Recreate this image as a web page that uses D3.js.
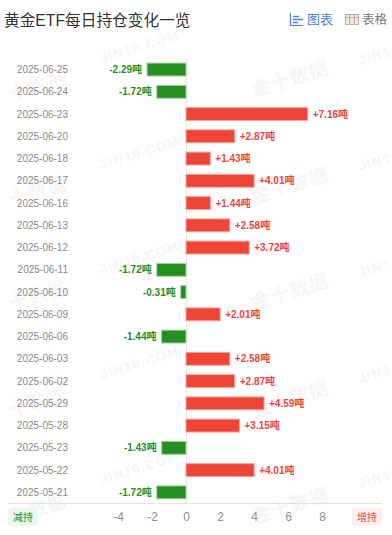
<!DOCTYPE html>
<html>
<head>
<meta charset="utf-8">
<script src="https://cdn.jsdelivr.net/npm/d3@7"></script>
<style>
  html, body { margin: 0; padding: 0; background: #fff; }
  svg { display: block; font-family: "Liberation Sans", "Noto Sans CJK SC", sans-serif; }
</style>
</head>
<body>
<div id="chart"></div>
<script>
const dates = ['2025-06-25','2025-06-24','2025-06-23','2025-06-20','2025-06-18','2025-06-17','2025-06-16','2025-06-13','2025-06-12','2025-06-11','2025-06-10','2025-06-09','2025-06-06','2025-06-03','2025-06-02','2025-05-29','2025-05-28','2025-05-23','2025-05-22','2025-05-21'];
const changes = [-2.29,-1.72,7.16,2.87,1.43,4.01,1.44,2.58,3.72,-1.72,-0.31,2.01,-1.44,2.58,2.87,4.59,3.15,-1.43,4.01,-1.72];
const xTicks = [-4,-2,0,2,4,6,8];
const title = '黄金ETF每日持仓变化一览';

const width = 392, height = 535;
const margin = { top: 58.4, right: 10, bottom: 31.5, left: 8 };
const red = '#ee4539', green = '#25901f';

const svg = d3.select('#chart').append('svg')
  .attr('width', width)
  .attr('height', height);

// Watermark, the ones at the page edge only show the part that fits
const marks = [
  ['JIN10.COM', 141, 51], ['JIN10.COM', 141, 157], ['JIN10.COM', 141, 262], ['JIN10.COM', 141, 367], ['JIN10.COM', 141, 472],
  ['金十数据', 292, 85], ['金十数据', 292, 192], ['金十数据', 292, 298], ['金十数据', 292, 405], ['金十数据', 292, 512],
  ['JIN1', 376, 60], ['JIN1', 376, 166], ['JIN1', 376, 272], ['JIN1', 376, 378], ['JIN1', 376, 483],
  ['十数据', 40, 92], ['十数据', 40, 198], ['十数据', 40, 302], ['十数据', 40, 408], ['十数据', 40, 515]
];
svg.append('g').selectAll('text')
  .data(marks)
  .enter().append('text')
  .attr('transform', d => 'translate(' + d[1] + ',' + d[2] + ') rotate(-17)')
  .attr('text-anchor', 'middle')
  .attr('font-size', d => /[A-Z]/.test(d[0]) ? 13 : 19)
  .attr('font-weight', 'bold')
  .attr('letter-spacing', d => /[A-Z]/.test(d[0]) ? 1.5 : 1)
  .attr('fill', '#f6f6f6')
  .text(d => d[0]);

// Header
svg.append('text')
  .attr('x', 4).attr('y', 25.5)
  .attr('font-size', 15.7)
  .attr('fill', '#333')
  .text(title);

const chartIcon = svg.append('g').attr('stroke', '#4d7fe0').attr('fill', 'none').attr('stroke-width', 1.2);
chartIcon.append('path').attr('d', 'M290.5 13V25.5H303');
chartIcon.append('path').attr('d', 'M293 16.5H299M293 19.5H303M293 22.5H298').attr('stroke-width', 1.6);
svg.append('text').attr('x', 307).attr('y', 24).attr('font-size', 13).attr('fill', '#4d7fe0').text('图表');

const tableIcon = svg.append('g').attr('stroke', '#b5b0a8').attr('fill', 'none');
tableIcon.append('rect').attr('x', 345.5).attr('y', 14.5).attr('width', 13).attr('height', 10).attr('fill', '#eee9df');
tableIcon.append('path').attr('d', 'M345.5 17.5H358.5M349.5 15V24M354.5 15V24');
svg.append('text').attr('x', 362).attr('y', 24).attr('font-size', 12.5).attr('fill', '#777').text('表格');

// Scales
const x = d3.scaleLinear()
  .domain([-10.47, 11.53])
  .range([margin.left, width - margin.right]);

const y = d3.scaleBand()
  .domain(dates)
  .range([margin.top, height - margin.bottom])
  .paddingInner(0.42)
  .paddingOuter(0.21);

// Zero line
svg.append('line')
  .attr('x1', x(0) + 0.5).attr('x2', x(0) + 0.5)
  .attr('y1', margin.top).attr('y2', height - margin.bottom)
  .attr('stroke', '#e3e3e3');

// Bars
svg.selectAll('.bar')
  .data(changes)
  .enter().append('rect')
  .attr('class', 'bar')
  .attr('x', d => Math.min(x(d), x(0)))
  .attr('y', (d, i) => y(dates[i]))
  .attr('width', d => Math.abs(x(d) - x(0)))
  .attr('height', y.bandwidth())
  .attr('fill', d => d < 0 ? green : red)
  .attr('stroke', d => d < 0 ? '#a3d0a0' : '#f8a39d')
  .attr('stroke-width', 1);

// Value labels
svg.selectAll('.value')
  .data(changes)
  .enter().append('text')
  .attr('class', 'value')
  .attr('x', d => x(d) + (d < 0 ? -5 : 5))
  .attr('y', (d, i) => y(dates[i]) + y.bandwidth() / 2)
  .attr('dy', '0.35em')
  .attr('text-anchor', d => d < 0 ? 'end' : 'start')
  .attr('font-size', 10)
  .attr('font-weight', 'bold')
  .attr('fill', d => d < 0 ? green : red)
  .text(d => (d < 0 ? '' : '+') + d.toFixed(2) + '吨');

// Date labels
svg.selectAll('.date')
  .data(dates)
  .enter().append('text')
  .attr('class', 'date')
  .attr('x', 68)
  .attr('y', d => y(d) + y.bandwidth() / 2)
  .attr('dy', '0.35em')
  .attr('text-anchor', 'end')
  .attr('font-size', 10)
  .attr('fill', '#8a8a8a')
  .text(d => d);

// Bottom axis
const axis = svg.append('g')
  .attr('transform', 'translate(0,' + (height - margin.bottom) + ')')
  .call(d3.axisBottom(x).tickValues(xTicks).tickSize(0).tickPadding(9).tickFormat(d3.format('d')));
axis.select('.domain').attr('stroke', '#e3e3e3').attr('d', 'M8,0H382');
axis.selectAll('text')
  .attr('font-family', '"Liberation Sans", sans-serif')
  .attr('font-size', 12)
  .attr('fill', '#8f8f8f')
  .text(d => d < 0 ? '-' + Math.abs(d) : d);

// Corner tags
const tags = [
  { label: '减持', x: 8, w: 30, bg: '#ecf8ec', fg: green },
  { label: '增持', x: 352, w: 30, bg: '#fdf0ef', fg: red }
];
const tag = svg.selectAll('.tag')
  .data(tags)
  .enter().append('g')
  .attr('class', 'tag');
tag.append('rect')
  .attr('x', d => d.x).attr('y', 508)
  .attr('width', d => d.w).attr('height', 18)
  .attr('rx', 3)
  .attr('fill', d => d.bg);
tag.append('text')
  .attr('x', d => d.x + d.w / 2).attr('y', 521)
  .attr('text-anchor', 'middle')
  .attr('font-size', 10)
  .attr('fill', d => d.fg)
  .text(d => d.label);
</script>
</body>
</html>
